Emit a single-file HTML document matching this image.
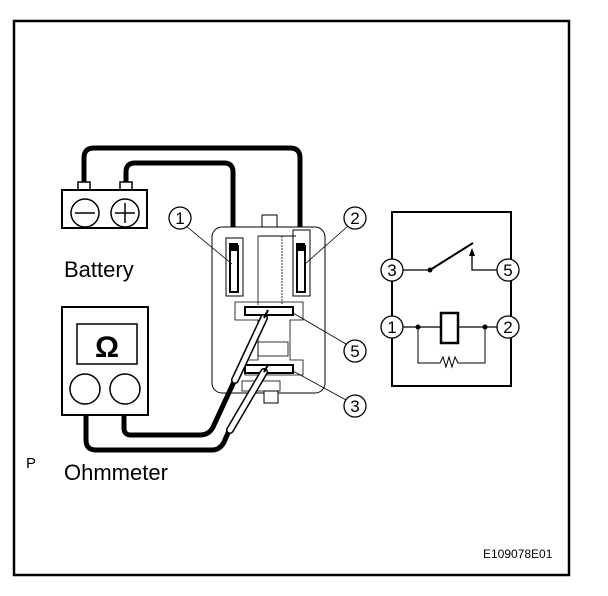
<!DOCTYPE html>
<html><head><style>
html,body{margin:0;padding:0;background:#fff}
svg{display:block}
text{font-family:"Liberation Sans",Arial,sans-serif;fill:#000}
</style></head><body>
<svg width="608" height="596" viewBox="0 0 608 596" xmlns="http://www.w3.org/2000/svg">
<rect x="14" y="21" width="555" height="554" fill="none" stroke="#000" stroke-width="2.5"/>

<path d="M84 184 V158 Q84 148 94 148 H290 Q300 148 300 158 V246" fill="none" stroke="#000" stroke-width="5"/>
<path d="M126 184 V172 Q126 163 135 163 H224 Q233 163 233 172 V246" fill="none" stroke="#000" stroke-width="5"/>

<rect x="78" y="182" width="12" height="8" fill="#fff" stroke="#000" stroke-width="1.5"/>
<rect x="120" y="182" width="12" height="8" fill="#fff" stroke="#000" stroke-width="1.5"/>
<rect x="62" y="190" width="85" height="38" fill="#fff" stroke="#000" stroke-width="2"/>
<circle cx="85" cy="213" r="14" fill="none" stroke="#000" stroke-width="1.5"/>
<circle cx="125" cy="213" r="14" fill="none" stroke="#000" stroke-width="1.5"/>
<line x1="75" y1="213" x2="95" y2="213" stroke="#000" stroke-width="1.5"/>
<line x1="115" y1="213" x2="135" y2="213" stroke="#000" stroke-width="1.5"/>
<line x1="125" y1="203" x2="125" y2="223" stroke="#000" stroke-width="1.5"/>
<text x="64" y="277" font-size="22">Battery</text>

<rect x="262" y="215" width="15" height="13" fill="#fff" stroke="#000" stroke-width="1"/>
<rect x="212" y="227" width="113" height="166" rx="10" fill="#fff" stroke="#000" stroke-width="1"/>
<line x1="258" y1="236" x2="258" y2="305" stroke="#000" stroke-width="0.8"/>
<line x1="282" y1="236" x2="282" y2="305" stroke="#000" stroke-width="0.8" stroke-dasharray="2 1"/>
<line x1="258" y1="236" x2="296" y2="236" stroke="#000" stroke-width="1"/>
<rect x="226" y="238" width="17" height="58" fill="none" stroke="#000" stroke-width="1"/>
<rect x="230" y="246" width="8" height="46" fill="#fff" stroke="#000" stroke-width="2"/>
<rect x="293" y="230" width="17" height="66" fill="none" stroke="#000" stroke-width="1"/>
<rect x="297" y="246" width="8" height="46" fill="#fff" stroke="#000" stroke-width="2"/>
<rect x="229" y="243" width="9" height="8" fill="#000"/>
<rect x="296" y="243" width="9" height="8" fill="#000"/>
<path d="M235 302 H303 V320 H290 V360 H303 V375 H245 V360 H258 V320 H235 Z" fill="none" stroke="#000" stroke-width="0.8"/>
<rect x="245" y="307" width="48" height="8" fill="#fff" stroke="#000" stroke-width="2"/>
<rect x="258" y="342" width="30" height="14" fill="none" stroke="#000" stroke-width="0.8"/>
<rect x="245" y="365" width="48" height="8" fill="#fff" stroke="#000" stroke-width="2"/>
<rect x="242" y="381" width="38" height="10" fill="none" stroke="#000" stroke-width="0.8"/>
<rect x="264" y="391" width="14" height="12" fill="#fff" stroke="#000" stroke-width="1"/>

<path d="M124 414 V428 Q124 435 131 435 H200 Q210 435 214 425 L238 373" fill="none" stroke="#000" stroke-width="5"/>
<path d="M86 414 V440 Q86 450 96 450 H212 Q220 450 224 442 L232 424" fill="none" stroke="#000" stroke-width="5"/>
<path d="M235 380 L264 318" stroke="#000" stroke-width="8" stroke-linecap="round"/>
<path d="M235 380 L264 318" stroke="#fff" stroke-width="5" stroke-linecap="round"/>
<line x1="264" y1="318" x2="268" y2="310" stroke="#000" stroke-width="2"/>
<path d="M230 430 L264 372" stroke="#000" stroke-width="8" stroke-linecap="round"/>
<path d="M230 430 L264 372" stroke="#fff" stroke-width="5" stroke-linecap="round"/>
<line x1="264" y1="372" x2="268" y2="365" stroke="#000" stroke-width="2"/>

<rect x="62" y="307" width="86" height="108" fill="#fff" stroke="#000" stroke-width="2"/>
<rect x="77" y="324" width="60" height="40" fill="none" stroke="#000" stroke-width="1.5"/>
<text x="107" y="357" font-size="30" font-weight="bold" text-anchor="middle">Ω</text>
<circle cx="85" cy="389" r="15" fill="none" stroke="#000" stroke-width="1.5"/>
<circle cx="125" cy="389" r="15" fill="none" stroke="#000" stroke-width="1.5"/>
<text x="64" y="480" font-size="22">Ohmmeter</text>
<text x="26" y="468" font-size="15">P</text>

<g stroke="#000" stroke-width="0.8" fill="none">
<line x1="186" y1="226" x2="232" y2="264"/>
<line x1="348" y1="226" x2="305" y2="264"/>
<line x1="346" y1="344" x2="293" y2="313"/>
<line x1="346" y1="400" x2="293" y2="371"/>
</g>
<g fill="#fff" stroke="#000" stroke-width="1.3">
<circle cx="180" cy="218" r="11"/><circle cx="355" cy="218" r="11"/>
<circle cx="355" cy="351" r="11"/><circle cx="355" cy="406" r="11"/>
</g>
<g font-size="17" text-anchor="middle">
<text x="180" y="224">1</text><text x="355" y="224">2</text>
<text x="355" y="357">5</text><text x="355" y="412">3</text>
</g>

<rect x="392" y="212" width="119" height="174" fill="none" stroke="#000" stroke-width="2"/>
<line x1="392" y1="270" x2="430" y2="270" stroke="#000" stroke-width="1.3"/>
<line x1="430" y1="270" x2="473" y2="243" stroke="#000" stroke-width="2"/>
<circle cx="430" cy="270" r="2.5"/>
<path d="M472 250 V270 H508" fill="none" stroke="#000" stroke-width="1.3"/>
<path d="M469 256 L472 248 L475 256 Z"/>
<line x1="392" y1="327" x2="440" y2="327" stroke="#000" stroke-width="1.3"/>
<line x1="458" y1="327" x2="508" y2="327" stroke="#000" stroke-width="1.3"/>
<rect x="441" y="313" width="17" height="30" fill="#fff" stroke="#000" stroke-width="2.5"/>
<circle cx="418" cy="327" r="2.5"/><circle cx="485" cy="327" r="2.5"/>
<path d="M418 327 V363 H440 L443 357 L446 367 L449 357 L452 367 L455 357 L458 363 H485 V327" fill="none" stroke="#000" stroke-width="1"/>
<g fill="#fff" stroke="#000" stroke-width="1.3">
<circle cx="392" cy="270" r="11"/><circle cx="508" cy="270" r="11"/>
<circle cx="392" cy="327" r="11"/><circle cx="508" cy="327" r="11"/>
</g>
<g font-size="17" text-anchor="middle">
<text x="392" y="276">3</text><text x="508" y="276">5</text>
<text x="392" y="333">1</text><text x="508" y="333">2</text>
</g>

<text x="483" y="558" font-size="12">E109078E01</text>
</svg>
</body></html>
